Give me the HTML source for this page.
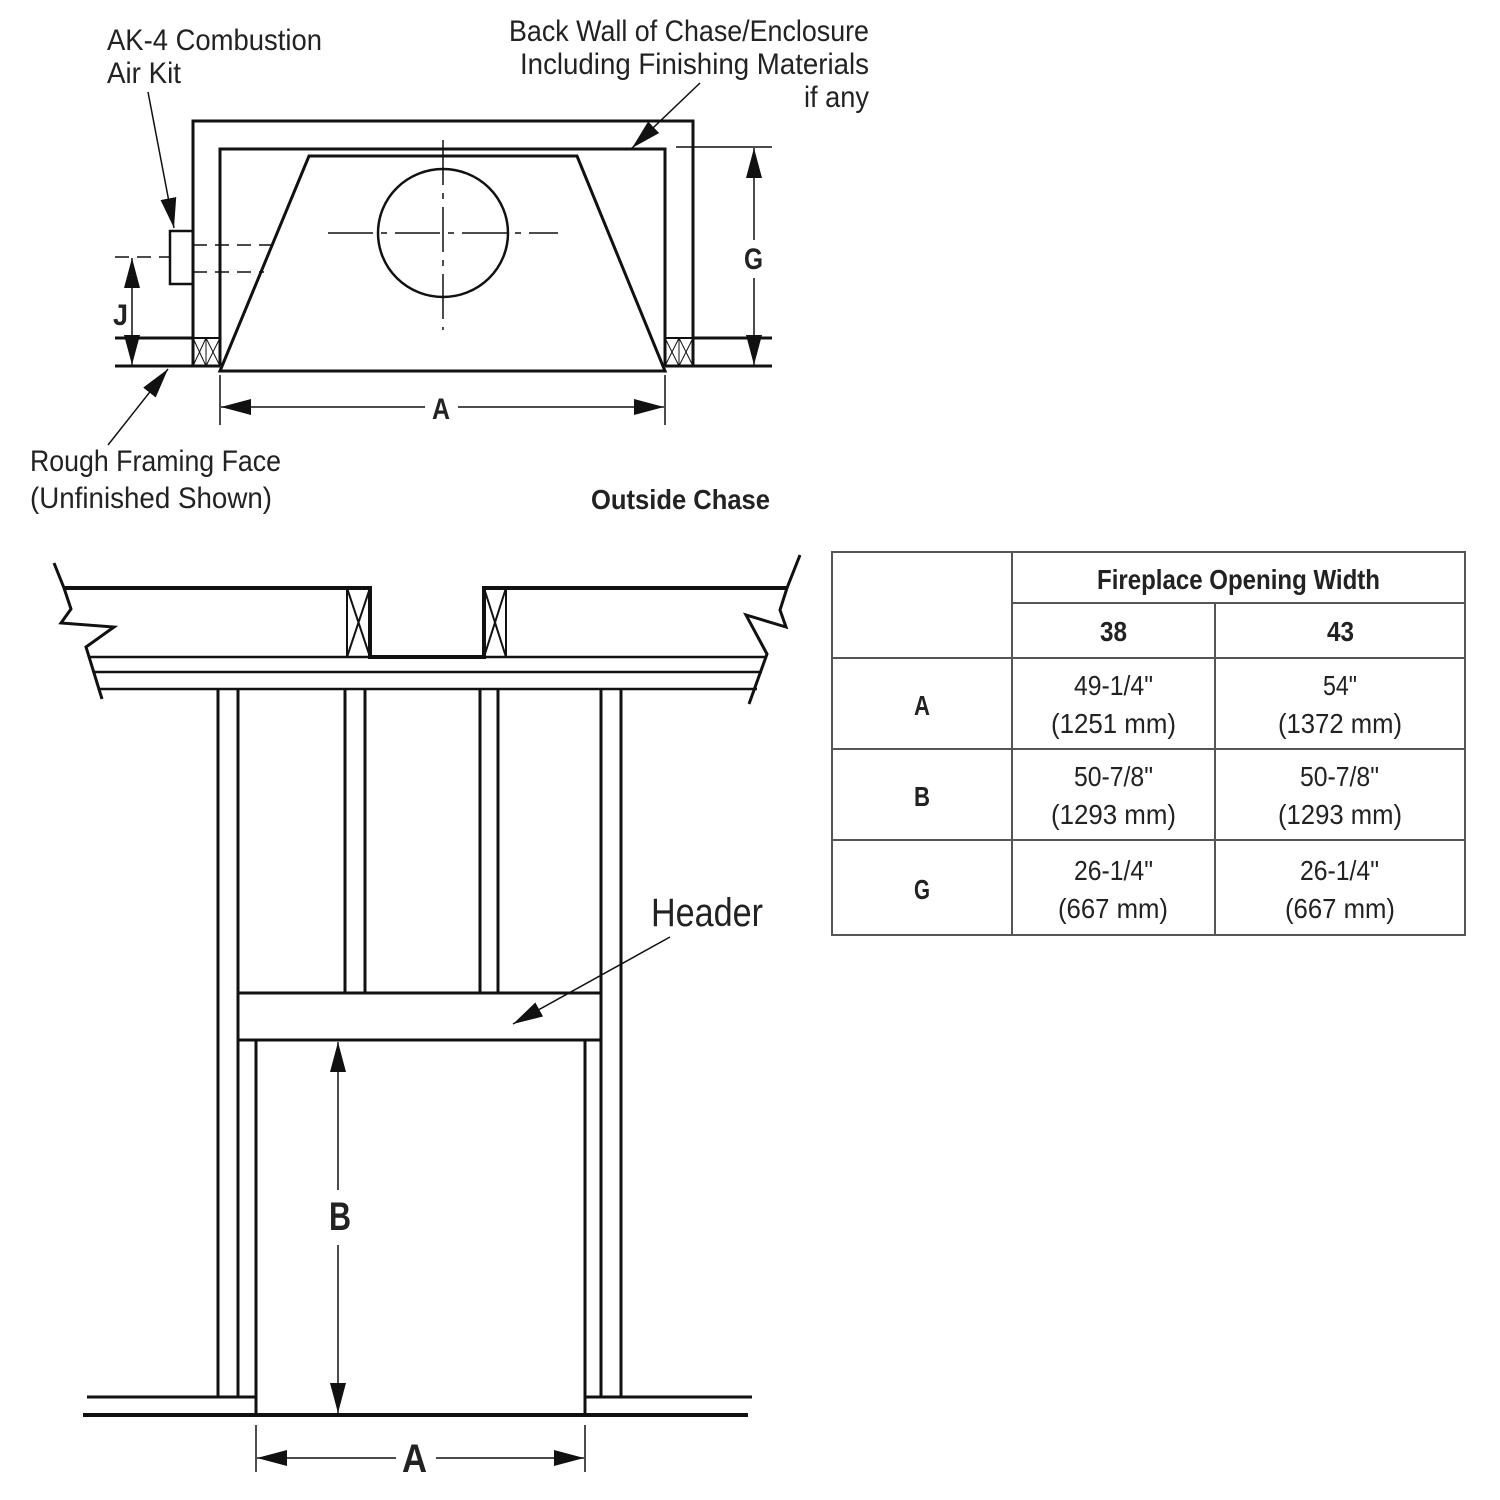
<!DOCTYPE html>
<html><head><meta charset="utf-8"><style>
html,body{margin:0;padding:0;background:#fff;}
svg{display:block;}
text{font-family:"Liberation Sans Narrow","Liberation Sans",sans-serif;fill:#222;}
.b{font-weight:bold;}
</style></head><body>
<svg width="1500" height="1500" viewBox="0 0 1500 1500" xmlns="http://www.w3.org/2000/svg">
<defs>
<marker id="ar" markerUnits="userSpaceOnUse" markerWidth="30" markerHeight="16" refX="30" refY="8" orient="auto-start-reverse"><path d="M0,0 L30,8 L0,16 z" fill="#111"/></marker>
</defs>
<g stroke="#111" fill="none">
<path d="M193,366 V121 H693 V366" stroke-width="3"/>
<path d="M220,366 V149 H665 V366" stroke-width="3"/>
<path d="M220,371 L309,156 H577 L665,371 Z" stroke-width="3"/>
<ellipse cx="443" cy="233" rx="65" ry="64" stroke-width="2.5"/>
<line x1="443" y1="140" x2="443" y2="330" stroke-width="1.5" stroke-dasharray="45,8,6,8"/>
<line x1="328" y1="233" x2="558" y2="233" stroke-width="1.5" stroke-dasharray="45,8,6,8"/>
<line x1="115" y1="338" x2="193" y2="338" stroke-width="3"/>
<line x1="115" y1="366" x2="220" y2="366" stroke-width="3"/>
<line x1="693" y1="338" x2="772" y2="338" stroke-width="3"/>
<line x1="665" y1="366" x2="772" y2="366" stroke-width="3"/>
<line x1="193" y1="338" x2="220" y2="338" stroke-width="2"/>
<line x1="665" y1="338" x2="693" y2="338" stroke-width="2"/>
<path d="M193,338 L206,366 M206,338 L193,366 M206,338 L220,366 M220,338 L206,366 M665,338 L679,366 M679,338 L665,366 M679,338 L693,366 M693,338 L679,366 M206,338 V366 M679,338 V366" stroke-width="1"/>
<rect x="170" y="231" width="23" height="53" stroke-width="2.5"/>
<line x1="193" y1="245" x2="275" y2="245" stroke-width="1.5" stroke-dasharray="14,8"/>
<line x1="193" y1="272" x2="264" y2="272" stroke-width="1.5" stroke-dasharray="14,8"/>
<line x1="115" y1="257" x2="170" y2="257" stroke-width="1.5" stroke-dasharray="14,8"/>
<line x1="132" y1="258" x2="132" y2="365" stroke-width="1.5" marker-start="url(#ar)" marker-end="url(#ar)"/>
<line x1="676" y1="147" x2="772" y2="147" stroke-width="1.5"/>
<line x1="754" y1="148" x2="754" y2="240" stroke-width="1.5" marker-start="url(#ar)"/>
<line x1="754" y1="278" x2="754" y2="365" stroke-width="1.5" marker-end="url(#ar)"/>
<line x1="220" y1="375" x2="220" y2="425" stroke-width="1.5"/>
<line x1="665" y1="375" x2="665" y2="425" stroke-width="1.5"/>
<line x1="221" y1="407" x2="425" y2="407" stroke-width="1.5" marker-start="url(#ar)"/>
<line x1="458" y1="407" x2="664" y2="407" stroke-width="1.5" marker-end="url(#ar)"/>
<line x1="148" y1="92" x2="174" y2="228" stroke-width="1.5" marker-end="url(#ar)"/>
<line x1="700" y1="83" x2="632" y2="148" stroke-width="1.5" marker-end="url(#ar)"/>
<line x1="108" y1="445" x2="168" y2="369" stroke-width="1.5" marker-end="url(#ar)"/>

<path d="M54,563 L64,588 L71,609 L61,623 L114,627 L86,647 L102,699" stroke-width="3"/>
<path d="M800,555 L787,588 L780,610 L786,627 L746,615 L767,654 L749,704" stroke-width="3"/>
<line x1="64" y1="588" x2="372" y2="588" stroke-width="4"/>
<line x1="482" y1="588" x2="787" y2="588" stroke-width="4"/>
<path d="M370,588 V657 H484 V588" stroke-width="4"/>
<line x1="88" y1="657" x2="370" y2="657" stroke-width="2.5"/>
<line x1="484" y1="657" x2="767" y2="657" stroke-width="2.5"/>
<line x1="94" y1="672" x2="762" y2="672" stroke-width="2.5"/>
<line x1="98" y1="689" x2="757" y2="689" stroke-width="2.5"/>
<path d="M347,588 V657 M347,588 L370,657 M370,588 L347,657 M506,588 V657 M484,588 L506,657 M506,588 L484,657" stroke-width="2"/>
<path d="M218,689 V1397 M238,689 V1397 M601,689 V1397 M621,689 V1397" stroke-width="3"/>
<path d="M256,1040 V1415 M585,1040 V1415" stroke-width="3"/>
<path d="M345,689 V993 M365,689 V993 M480,689 V993 M498,689 V993" stroke-width="3"/>
<rect x="238" y="993" width="363" height="47" stroke-width="3"/>
<line x1="87" y1="1397" x2="256" y2="1397" stroke-width="3"/>
<line x1="585" y1="1397" x2="752" y2="1397" stroke-width="3"/>
<line x1="83" y1="1415" x2="748" y2="1415" stroke-width="4"/>
<line x1="338" y1="1042" x2="338" y2="1190" stroke-width="1.5" marker-start="url(#ar)"/>
<line x1="338" y1="1245" x2="338" y2="1413" stroke-width="1.5" marker-end="url(#ar)"/>
<line x1="256" y1="1425" x2="256" y2="1472" stroke-width="1.5"/>
<line x1="585" y1="1425" x2="585" y2="1472" stroke-width="1.5"/>
<line x1="257" y1="1458" x2="396" y2="1458" stroke-width="1.5" marker-start="url(#ar)"/>
<line x1="436" y1="1458" x2="584" y2="1458" stroke-width="1.5" marker-end="url(#ar)"/>
<line x1="670" y1="937" x2="513" y2="1024" stroke-width="1.5" marker-end="url(#ar)"/>

<rect x="832" y="552" width="633" height="383" stroke="#555" stroke-width="2"/>
<path d="M1012,552 V935 M1215,603 V935 M1012,603 H1465 M832,658 H1465 M832,749 H1465 M832,840 H1465" stroke="#555" stroke-width="2"/>
</g>

<g font-size="30" lengthAdjust="spacingAndGlyphs">
<text x="107" y="50" textLength="215" lengthAdjust="spacingAndGlyphs">AK-4 Combustion</text>
<text x="107" y="83" textLength="74" lengthAdjust="spacingAndGlyphs">Air Kit</text>
<text x="509" y="41" textLength="360" lengthAdjust="spacingAndGlyphs">Back Wall of Chase/Enclosure</text>
<text x="520" y="74" textLength="349" lengthAdjust="spacingAndGlyphs">Including Finishing Materials</text>
<text x="804" y="107" textLength="65" lengthAdjust="spacingAndGlyphs">if any</text>
<text x="30" y="471" textLength="251" lengthAdjust="spacingAndGlyphs">Rough Framing Face</text>
<text x="30" y="508" textLength="242" lengthAdjust="spacingAndGlyphs">(Unfinished Shown)</text>
<text x="591" y="509" class="b" font-size="28" textLength="179" lengthAdjust="spacingAndGlyphs">Outside Chase</text>
<text x="113" y="325" class="b" textLength="15" lengthAdjust="spacingAndGlyphs">J</text>
<text x="744" y="269" class="b" textLength="19" lengthAdjust="spacingAndGlyphs">G</text>
<text x="432" y="419" class="b" textLength="18" lengthAdjust="spacingAndGlyphs">A</text>
<text x="651" y="926" font-size="40" textLength="112" lengthAdjust="spacingAndGlyphs">Header</text>
<text x="329" y="1230" class="b" font-size="40" textLength="22" lengthAdjust="spacingAndGlyphs">B</text>
<text x="402" y="1472" class="b" font-size="40" textLength="25" lengthAdjust="spacingAndGlyphs">A</text>
</g>
<g font-size="28">
<text x="1097" y="589" class="b" textLength="283" lengthAdjust="spacingAndGlyphs">Fireplace Opening Width</text>
<text x="1100" y="641" class="b" textLength="27" lengthAdjust="spacingAndGlyphs">38</text>
<text x="1327" y="641" class="b" textLength="27" lengthAdjust="spacingAndGlyphs">43</text>
<text x="914" y="715" class="b" textLength="16" lengthAdjust="spacingAndGlyphs">A</text>
<text x="914" y="806" class="b" textLength="16" lengthAdjust="spacingAndGlyphs">B</text>
<text x="914" y="899" class="b" textLength="16" lengthAdjust="spacingAndGlyphs">G</text>
<text x="1074" y="695" textLength="79" lengthAdjust="spacingAndGlyphs">49-1/4"</text>
<text x="1051" y="733" textLength="125" lengthAdjust="spacingAndGlyphs">(1251 mm)</text>
<text x="1323" y="695" textLength="34" lengthAdjust="spacingAndGlyphs">54"</text>
<text x="1278" y="733" textLength="124" lengthAdjust="spacingAndGlyphs">(1372 mm)</text>
<text x="1074" y="786" textLength="79" lengthAdjust="spacingAndGlyphs">50-7/8"</text>
<text x="1051" y="824" textLength="125" lengthAdjust="spacingAndGlyphs">(1293 mm)</text>
<text x="1300" y="786" textLength="79" lengthAdjust="spacingAndGlyphs">50-7/8"</text>
<text x="1278" y="824" textLength="124" lengthAdjust="spacingAndGlyphs">(1293 mm)</text>
<text x="1074" y="880" textLength="79" lengthAdjust="spacingAndGlyphs">26-1/4"</text>
<text x="1058" y="918" textLength="110" lengthAdjust="spacingAndGlyphs">(667 mm)</text>
<text x="1300" y="880" textLength="79" lengthAdjust="spacingAndGlyphs">26-1/4"</text>
<text x="1285" y="918" textLength="110" lengthAdjust="spacingAndGlyphs">(667 mm)</text>
</g>
</svg>
</body></html>
